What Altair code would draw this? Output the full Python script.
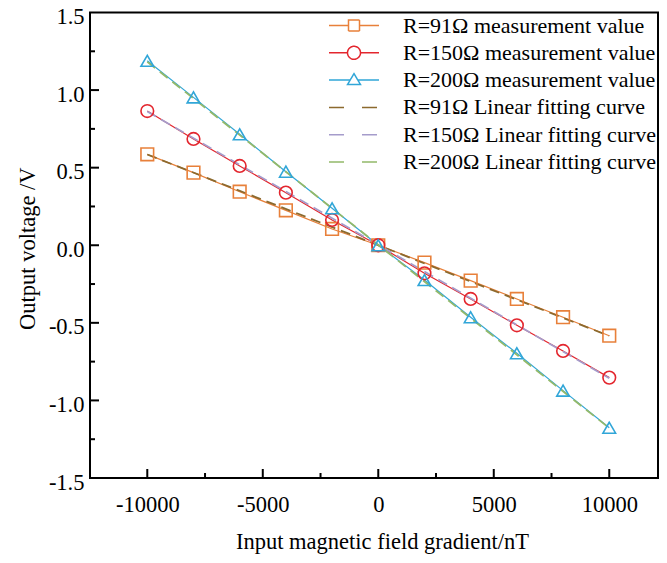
import altair as alt
import pandas as pd

# ---- data ----
x_vals = [-10000, -8000, -6000, -4000, -2000, 0, 2000, 4000, 6000, 8000, 10000]
r91_meas = [0.586, 0.468, 0.345, 0.225, 0.105, 0.0, -0.112, -0.228, -0.346, -0.464, -0.583]
r150_meas = [0.865, 0.685, 0.511, 0.339, 0.163, 0.0, -0.181, -0.346, -0.516, -0.681, -0.853]
r200_meas = [1.189, 0.953, 0.715, 0.474, 0.238, 0.0, -0.224, -0.464, -0.696, -0.937, -1.176]

fit_x = [-10000, 10000]
r91_fit = [0.585, -0.585]
r150_fit = [0.862, -0.857]
r200_fit = [1.182, -1.178]

series = [
    "R=91Ω measurement value",
    "R=150Ω measurement value",
    "R=200Ω measurement value",
    "R=91Ω Linear fitting curve",
    "R=150Ω Linear fitting curve",
    "R=200Ω Linear fitting curve",
]
colors = ["#E8803A", "#E3262E", "#31A6D8", "#8C6A2E", "#A59CCB", "#93B96A"]
point_shapes = ["square", "circle", "triangle-up"]

x_major = [-10000, -5000, 0, 5000, 10000]
x_minor = [-7500, -2500, 2500, 7500]
y_labels = [-1.5, -1.0, -0.5, 0.0, 0.5, 1.0, 1.5]
y_major = [-1.0, -0.5, 0.0, 0.5, 1.0]
y_minor = [-1.25, -0.75, -0.25, 0.25, 0.75, 1.25]

# ---- tables ----
meas_rows = []
for name, vals in zip(series[:3], [r91_meas, r150_meas, r200_meas]):
    for x, y in zip(x_vals, vals):
        meas_rows.append({"x": x, "y": y, "series": name})
meas = pd.DataFrame(meas_rows)

fit_rows = []
for name, vals in zip(series[3:], [r91_fit, r150_fit, r200_fit]):
    for x, y in zip(fit_x, vals):
        fit_rows.append({"x": x, "y": y, "series": name})
fit = pd.DataFrame(fit_rows)

W, H = 568, 465.5
FONT = "Liberation Serif"
FS = 22.5
LFS = 22

xscale = alt.Scale(domain=[-12480, 12110], nice=False, zero=False)
yscale = alt.Scale(domain=[-1.5, 1.5], nice=False, zero=False)
cscale = alt.Scale(domain=series, range=colors)

xaxis = alt.Axis(
    values=x_major, ticks=False, domain=False, grid=False,
    labelExpr="datum.value < 0 ? '-' + format(-datum.value, 'd') : format(datum.value, 'd')",
    labelFont=FONT, labelFontSize=FS, labelColor="black", labelPadding=15,
    labelOverlap=False, labelFlush=False,
    title="Input magnetic field gradient/nT", titleFont=FONT, titleFontSize=FS,
    titleFontWeight="normal", titleColor="black", titleY=70, titleX=292,
    titleBaseline="alphabetic",
)
yaxis = alt.Axis(
    values=y_labels, ticks=False, domain=False, grid=False,
    labelExpr="datum.value < 0 ? '-' + format(-datum.value, '.1f') : format(datum.value, '.1f')",
    labelFont=FONT, labelFontSize=FS, labelColor="black", labelPadding=6, labelOffset=4,
    labelOverlap=False, labelFlush=False,
    title="Output voltage /V", titleFont=FONT, titleFontSize=FS,
    titleFontWeight="normal", titleColor="black", titleAngle=270,
    titleX=-56, titleY=H / 2 + 3, titleAlign="center", titleBaseline="alphabetic",
)

shape_paths = [
    "M-5,0H-1.1M1.1,0H5M-1.1,-1.1H1.1V1.1H-1.1Z",
    "M-5,0H-1.3M1.3,0H5M-1.3,0A1.3,1.3,0,1,0,1.3,0A1.3,1.3,0,1,0,-1.3,0Z",
    "M-5,0H-0.8M0.8,0H5M0,-1.3L1.3,0.9H-1.3Z",
    "M-5,0H5",
    "M-5,0H5",
    "M-5,0H5",
]
shape_expr = "[" + ",".join("'" + p + "'" for p in shape_paths) + "][datum.index]"

legend = alt.Legend(
    title=None, orient="none", legendX=253, legendY=2, padding=0,
    labelFont=FONT, labelFontSize=LFS, labelColor="black", labelLimit=500,
    labelOffset=38, rowPadding=5.3, symbolSize=100, symbolStrokeWidth=1.5,
    symbolType=alt.ExprRef(expr=shape_expr),
    symbolDash=alt.ExprRef(expr="datum.index >= 3 ? [15, 18] : [1, 0]"),
    symbolFillColor="transparent", symbolOpacity=1,
)

meas_lines = alt.Chart(meas).mark_line(strokeWidth=1.2, opacity=1).encode(
    x=alt.X("x:Q", scale=xscale, axis=xaxis),
    y=alt.Y("y:Q", scale=yscale, axis=yaxis),
    color=alt.Color("series:N", scale=cscale, legend=legend),
)

fit_lines = alt.Chart(fit).mark_line(strokeWidth=1.8, strokeDash=[10, 6], opacity=1).encode(
    x=alt.X("x:Q", scale=xscale, axis=xaxis),
    y=alt.Y("y:Q", scale=yscale, axis=yaxis),
    color=alt.Color("series:N", scale=cscale, legend=legend),
)

points = alt.Chart(meas).mark_point(filled=False, size=160, strokeWidth=1.6, opacity=1).encode(
    x=alt.X("x:Q", scale=xscale, axis=xaxis),
    y=alt.Y("y:Q", scale=yscale, axis=yaxis),
    color=alt.Color("series:N", scale=cscale, legend=legend),
    shape=alt.Shape("series:N", scale=alt.Scale(domain=series[:3], range=point_shapes), legend=None),
)

# inward ticks
xmaj = alt.Chart(pd.DataFrame({"x": x_major})).mark_rule(color="black", strokeWidth=2).encode(
    x=alt.X("x:Q", scale=xscale, axis=xaxis), y=alt.value(H), y2=alt.value(H - 9))
xmin = alt.Chart(pd.DataFrame({"x": x_minor})).mark_rule(color="black", strokeWidth=2).encode(
    x=alt.X("x:Q", scale=xscale, axis=xaxis), y=alt.value(H), y2=alt.value(H - 5))
ymaj = alt.Chart(pd.DataFrame({"y": y_major})).mark_rule(color="black", strokeWidth=2).encode(
    y=alt.Y("y:Q", scale=yscale, axis=yaxis), x=alt.value(0), x2=alt.value(9))
ymin = alt.Chart(pd.DataFrame({"y": y_minor})).mark_rule(color="black", strokeWidth=2).encode(
    y=alt.Y("y:Q", scale=yscale, axis=yaxis), x=alt.value(0), x2=alt.value(5))

chart = alt.layer(meas_lines, fit_lines, points, xmaj, xmin, ymaj, ymin).properties(
    width=W, height=H,
    autosize=alt.AutoSizeParams(type="none"),
    padding={"left": 82, "top": 4.5, "right": 1, "bottom": 80},
    background="white",
).configure_view(stroke="black", strokeWidth=2)

chart.save("out.html", embed_options={"renderer": "svg", "actions": False})
